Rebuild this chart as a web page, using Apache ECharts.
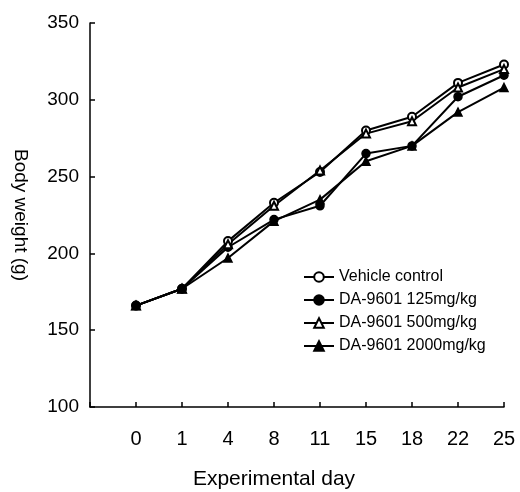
<!DOCTYPE html>
<html>
<head>
<meta charset="utf-8">
<script src="https://cdn.jsdelivr.net/npm/echarts@6/dist/echarts.min.js"></script>
<style>
  html, body { margin: 0; padding: 0; background: #fff; }
  #chart { width: 520px; height: 492px; }
</style>
</head>
<body>
<div id="chart"></div>
<script>
// experimental days (shown as evenly spaced categories)
var days = ["0", "1", "4", "8", "11", "15", "18", "22", "25"];

var vehicleControl = [166, 177, 208, 233, 253, 280, 289, 311, 323];
var dose125 = [166, 177, 204, 222, 231, 265, 270, 302, 316];
var dose500 = [166, 177, 206, 231, 254, 278, 286, 308, 320];
var dose2000 = [166, 177, 197, 221, 235, 260, 270, 292, 308];

var yTicks = [100, 150, 200, 250, 300, 350];

// x position i+1 so the first day sits one step right of the y axis
function toPoints(values) {
  return values.map(function (v, i) {
    return [i + 1, v];
  });
}

function makeSeries(name, values, symbol) {
  return {
    name: name,
    type: "line",
    data: toPoints(values),
    symbol: symbol,
    symbolSize: 8,
    showSymbol: true,
    color: "#000",
    itemStyle: { color: "#000", borderColor: "#000", borderWidth: 1.5 },
    lineStyle: { color: "#000", width: 2 },
    emphasis: { disabled: true },
  };
}

var chart = echarts.init(document.getElementById("chart"));
var font = "Liberation Sans, Arial, sans-serif";

var option = {
  animation: false,
  textStyle: { fontFamily: font, color: "#000" },
  grid: { left: 90, right: 16, top: 23, bottom: 85, outerBoundsMode: "none", containLabel: false },
  legend: {
    orient: "vertical",
    left: 303,
    top: 269,
    padding: 0,
    itemWidth: 30,
    itemHeight: 12,
    itemGap: 7,
    textStyle: { fontFamily: font, fontSize: 16, color: "#000" },
    data: ["Vehicle control", "DA-9601 125mg/kg", "DA-9601 500mg/kg", "DA-9601 2000mg/kg"],
  },
  xAxis: {
    type: "value",
    min: 0,
    max: 9,
    interval: 1,
    name: "Experimental day",
    nameLocation: "middle",
    nameGap: 62,
    nameTextStyle: { fontFamily: font, fontSize: 21, color: "#000", padding: [0, 46, 0, 0] },
    axisLine: { lineStyle: { color: "#000", width: 1.5 } },
    axisTick: { show: true, inside: true, length: 5, lineStyle: { color: "#000", width: 1.5 } },
    axisLabel: {
      margin: 22,
      fontSize: 20,
      color: "#000",
      fontFamily: font,
      formatter: function (v) {
        return v >= 1 ? days[v - 1] : "";
      },
    },
    splitLine: { show: false },
  },
  yAxis: {
    type: "value",
    min: yTicks[0],
    max: yTicks[yTicks.length - 1],
    interval: 50,
    name: "Body weight (g)",
    nameLocation: "middle",
    nameRotate: -90,
    nameGap: 60,
    nameTextStyle: { fontFamily: font, fontSize: 19, color: "#000" },
    axisLine: { show: true, lineStyle: { color: "#000", width: 1.5 } },
    axisTick: { show: true, inside: true, length: 5, lineStyle: { color: "#000", width: 1.5 } },
    axisLabel: { margin: 11, fontSize: 19, color: "#000", fontFamily: font },
    splitLine: { show: false },
  },
  series: [
    makeSeries("Vehicle control", vehicleControl, "emptyCircle"),
    makeSeries("DA-9601 125mg/kg", dose125, "circle"),
    makeSeries("DA-9601 500mg/kg", dose500, "emptyTriangle"),
    makeSeries("DA-9601 2000mg/kg", dose2000, "triangle"),
  ],
};

option && chart.setOption(option);
</script>
</body>
</html>
